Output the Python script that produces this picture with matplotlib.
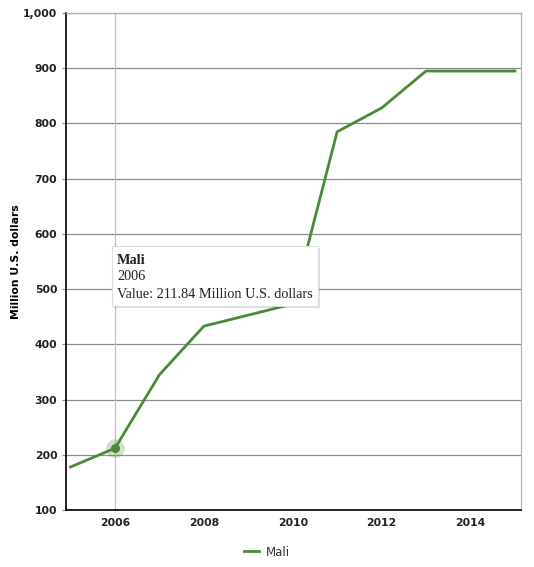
import matplotlib.pyplot as plt
from matplotlib.ticker import FuncFormatter
import matplotlib.patches as mpatches

years = [2005, 2006, 2007, 2008, 2009, 2010, 2011, 2012, 2013, 2014, 2015]
mali = [178, 211.84, 345, 433, 453, 473, 785, 828, 895, 895, 895]
series_name = "Mali"
y_label = "Million U.S. dollars"
x_ticks = [2006, 2008, 2010, 2012, 2014]
y_ticks = [100, 200, 300, 400, 500, 600, 700, 800, 900, 1000]
hover_year = 2006
hover_value = 211.84

green = '#4a8a36'
grid_c = '#8c8c8c'

fig = plt.figure(figsize=(5.34, 5.67), dpi=100)
ax = fig.add_axes([0.123, 0.1005, 0.852, 0.8765])

ax.set_xlim(2004.89, 2015.13)
ax.set_ylim(100, 1000)
ax.set_yticks(y_ticks)
ax.set_xticks(x_ticks)
ax.yaxis.set_major_formatter(FuncFormatter(lambda v, p: '{:,.0f}'.format(v)))

ax.grid(axis='y', color=grid_c, linewidth=0.9)
ax.set_axisbelow(True)
for s in ['top', 'right']:
    ax.spines[s].set_color('#b0b0b0')
    ax.spines[s].set_linewidth(0.9)
for s in ['left', 'bottom']:
    ax.spines[s].set_color('black')
    ax.spines[s].set_linewidth(1.2)
ax.tick_params(axis='y', length=3, color=grid_c, pad=3)
ax.tick_params(axis='x', length=0, pad=6)
for lab in ax.get_xticklabels() + ax.get_yticklabels():
    lab.set_fontweight('bold')
    lab.set_fontsize(7.8)
    lab.set_color('#222222')

ax.set_ylabel(y_label, fontsize=7.8, fontweight='bold')
ax.yaxis.set_label_coords(-0.098, 0.5)

# crosshair at hovered year
ax.axvline(hover_year, color='#c0c0c0', linewidth=0.9, zorder=1)

ax.plot(years, mali, color=green, linewidth=2.0, label=series_name, zorder=3)
ax.scatter([hover_year], [hover_value], s=180, color=green, alpha=0.25, linewidths=0, zorder=4)
ax.scatter([hover_year], [hover_value], s=30, color=green, zorder=5)

# tooltip box
shadow = mpatches.Rectangle((114 / 534, 1 - 308 / 567), 206 / 534, 60 / 567,
                            transform=fig.transFigure, facecolor='#000000', alpha=0.12,
                            edgecolor='none', zorder=8)
box = mpatches.Rectangle((112 / 534, 1 - 306 / 567), 206 / 534, 60 / 567,
                         transform=fig.transFigure, facecolor='white',
                         edgecolor='#dddddd', linewidth=0.8, zorder=9)
fig.patches.extend([shadow, box])
fig.text(117 / 534, 1 - 260 / 567, series_name, fontsize=10.3, fontweight='bold',
         family='Liberation Serif', color='#222222', va='center', zorder=10)
fig.text(117 / 534, 1 - 277 / 567, str(hover_year), fontsize=10.3,
         family='Liberation Serif', color='#222222', va='center', zorder=10)
fig.text(117 / 534, 1 - 295 / 567, 'Value: {} Million U.S. dollars'.format(hover_value),
         fontsize=10.3, family='Liberation Serif', color='#222222', va='center', zorder=10)

leg = fig.legend(loc='center', bbox_to_anchor=(0.5, 1 - 552 / 567), frameon=False,
                 fontsize=8.5, handlelength=1.3, handletextpad=0.6)
for t in leg.get_texts():
    t.set_color('#333333')

fig.savefig('out.png', dpi=100)
